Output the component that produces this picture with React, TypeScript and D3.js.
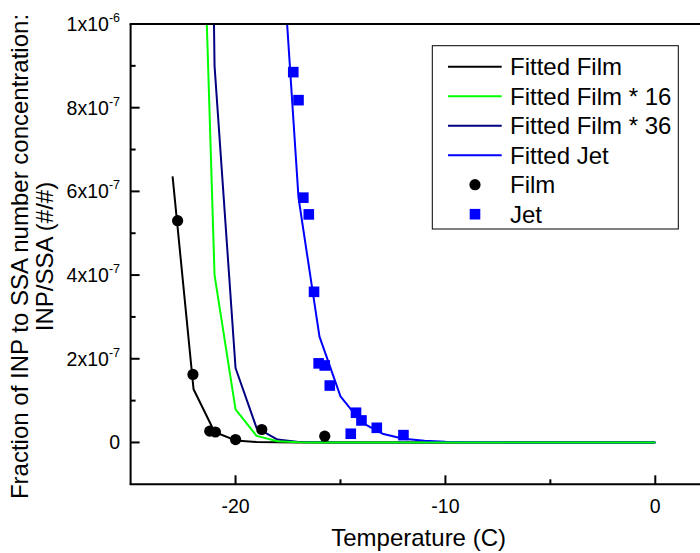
import React from "react";
import * as d3 from "d3";

// ---- data ----
const fitFilmT = [-23, -22, -21, -20, -19, -18, -17, -16, -15, -14, -13, -12, -11, -10, -9, -8, -7, -6, -5, -4, -3, -2, -1, 0];
const fittedFilm = [6.36e-7, 1.27e-7, 2.5e-8, 4.95e-9, 9.8e-10, 1.94e-10, 3.8e-11, 7.6e-12, 1.5e-12, 3e-13, 6e-14, 1.2e-14, 2.3e-15, 4.6e-16, 9e-17, 1.8e-17, 3.6e-18, 7e-19, 1.4e-19, 2.8e-20, 5.5e-21, 1.1e-21, 2.2e-22, 4.3e-23];
const fittedFilm16 = [1.02e-5, 2.03e-6, 4.0e-7, 7.9e-8, 1.57e-8, 3.1e-9, 6.1e-10, 1.2e-10, 2.4e-11, 4.8e-12, 9.6e-13, 1.9e-13, 3.7e-14, 7.4e-15, 1.4e-15, 2.9e-16, 5.8e-17, 1.1e-17, 2.2e-18, 4.5e-19, 8.8e-20, 1.8e-20, 3.5e-21, 6.9e-22];
const fittedFilm36 = [2.29e-5, 4.57e-6, 9.0e-7, 1.78e-7, 3.5e-8, 7.0e-9, 1.37e-9, 2.7e-10, 5.4e-11, 1.1e-11, 2.2e-12, 4.3e-13, 8.3e-14, 1.7e-14, 3.2e-15, 6.5e-16, 1.3e-16, 2.5e-17, 5e-18, 1e-18, 2e-19, 4e-20, 7.9e-21, 1.5e-21];

const fitJetT = [-18, -17, -16, -15, -14, -13, -12, -11, -10, -9, -8, -7, -6, -5, -4, -3, -2, -1, 0];
const fittedJet = [1.35e-6, 5.85e-7, 2.53e-7, 1.1e-7, 4.8e-8, 2.1e-8, 9.0e-9, 3.9e-9, 1.7e-9, 7.4e-10, 3.2e-10, 1.4e-10, 6e-11, 2.6e-11, 1.1e-11, 5e-12, 2e-12, 1e-12, 4e-13];

const filmT = [-22.76, -22.03, -21.23, -20.96, -20.0, -18.75, -15.75];
const filmV = [5.3e-7, 1.625e-7, 2.7e-8, 2.5e-8, 0.7e-8, 3.1e-8, 1.5e-8];

const jetT = [-17.25, -17.0, -16.77, -16.51, -16.26, -16.04, -15.75, -15.51, -14.51, -14.26, -14.0, -13.27, -12.0];
const jetV = [8.85e-7, 8.18e-7, 5.85e-7, 5.45e-7, 3.6e-7, 1.89e-7, 1.84e-7, 1.36e-7, 2.08e-8, 7.1e-8, 5.26e-8, 3.5e-8, 1.75e-8];

const xMajorTicks = [-20, -10, 0];
const xMajorLabels = ["-20", "-10", "0"];
const xMinorTicks = [-15, -5];
const yMajorTicks = [0, 2e-7, 4e-7, 6e-7, 8e-7, 1e-6];
const yTickMantissa = ["0", "2x10", "4x10", "6x10", "8x10", "1x10"];
const yTickExponent = ["", "-7", "-7", "-7", "-7", "-6"];
const yMinorTicks = [1e-7, 3e-7, 5e-7, 7e-7, 9e-7];

const legendLabels = ["Fitted Film", "Fitted Film * 16", "Fitted Film * 36", "Fitted Jet", "Film", "Jet"];

const FONT = "'Liberation Sans', Arial, sans-serif";

export default function App() {
  const left = 130.6, right = 700, top = 24, bottom = 484.3;
  const x = d3.scaleLinear().domain([-25, 0]).range([130.6, 655.3]);
  const y = d3.scaleLinear().domain([-1e-7, 1e-6]).range([bottom, top]);

  const line = d3
    .line<[number, number]>()
    .x((d) => x(d[0]))
    .y((d) => y(d[1]));

  const zip = (a: number[], b: number[]) => a.map((v, i) => [v, b[i]] as [number, number]);

  const series = [
    { vals: fittedFilm, t: fitFilmT, color: "#000000" },
    { vals: fittedFilm36, t: fitFilmT, color: "#000080" },
    { vals: fittedJet, t: fitJetT, color: "#0000FF" },
    { vals: fittedFilm16, t: fitFilmT, color: "#00FF00" },
  ];

  const legendColors = ["#000000", "#00FF00", "#000080", "#0000FF"];
  const legendY0 = 66.7;
  const legendStep = 29.5;

  return (
    <svg
      width={700}
      height={553}
      style={{ position: "absolute", left: 0, top: 0, background: "#fff" }}
      fontFamily={FONT}
    >
      <defs>
        <clipPath id="plotClip">
          <rect x={left} y={top} width={right - left} height={bottom - top} />
        </clipPath>
      </defs>
      <rect x={0} y={0} width={700} height={553} fill="#fff" />

      <g clipPath="url(#plotClip)">
        {series.map((s, i) => (
          <path
            key={i}
            d={line(zip(s.t, s.vals)) || ""}
            fill="none"
            stroke={s.color}
            strokeWidth={2}
            strokeLinejoin="round"
          />
        ))}
        {filmT.map((t, i) => (
          <circle key={"f" + i} cx={x(t)} cy={y(filmV[i])} r={5.6} fill="#000" />
        ))}
        {jetT.map((t, i) => (
          <rect key={"j" + i} x={x(t) - 5.3} y={y(jetV[i]) - 5.3} width={10.6} height={10.6} fill="#0000FF" />
        ))}
      </g>

      {/* axes */}
      <line x1={left} y1={top} x2={left} y2={bottom} stroke="#000" strokeWidth={2} />
      <line x1={left - 1} y1={bottom} x2={right} y2={bottom} stroke="#000" strokeWidth={2} />
      <line x1={left - 1} y1={top} x2={right} y2={top} stroke="#000" strokeWidth={2} />

      {yMajorTicks.map((v, i) => (
        <g key={"ym" + i}>
          <line x1={left} x2={left + 9} y1={y(v)} y2={y(v)} stroke="#000" strokeWidth={2} />
          <text x={120} y={y(v) + 7} textAnchor="end" fontSize={19.5} fill="#000">
            {yTickMantissa[i]}
            {yTickExponent[i] && (
              <tspan fontSize={12.5} dy={-9}>
                {yTickExponent[i]}
              </tspan>
            )}
          </text>
        </g>
      ))}
      {yMinorTicks.map((v, i) => (
        <line key={"yn" + i} x1={left} x2={left + 5} y1={y(v)} y2={y(v)} stroke="#000" strokeWidth={2} />
      ))}

      {xMajorTicks.map((v, i) => (
        <g key={"xm" + i}>
          <line x1={x(v)} x2={x(v)} y1={bottom} y2={bottom - 9} stroke="#000" strokeWidth={2} />
          <text x={x(v)} y={bottom + 29} textAnchor="middle" fontSize={19.5} fill="#000">
            {xMajorLabels[i]}
          </text>
        </g>
      ))}
      {xMinorTicks.map((v, i) => (
        <line key={"xn" + i} x1={x(v)} x2={x(v)} y1={bottom} y2={bottom - 5} stroke="#000" strokeWidth={2} />
      ))}

      {/* axis titles */}
      <text x={418.6} y={546} textAnchor="middle" fontSize={24} fill="#000">
        Temperature (C)
      </text>
      <text transform="translate(28,256.5) rotate(-90)" textAnchor="middle" fontSize={24} fill="#000">
        Fraction of INP to SSA number concentration:
      </text>
      <text transform="translate(53,256.5) rotate(-90)" textAnchor="middle" fontSize={24} fill="#000">
        INP/SSA (#/#)
      </text>

      {/* legend */}
      <rect x={432.3} y={45.7} width={246} height={183.3} fill="#fff" stroke="#000" strokeWidth={1} />
      {legendLabels.map((lab, i) => {
        const cy = legendY0 + i * legendStep;
        return (
          <g key={"lg" + i}>
            {i < 4 && (
              <line x1={448} x2={501.7} y1={cy} y2={cy} stroke={legendColors[i]} strokeWidth={2} />
            )}
            {i === 4 && <circle cx={475} cy={cy} r={5.6} fill="#000" />}
            {i === 5 && <rect x={475 - 5.3} y={cy - 5.3} width={10.6} height={10.6} fill="#0000FF" />}
            <text x={510} y={cy + 8.5} fontSize={24} fill="#000">
              {lab}
            </text>
          </g>
        );
      })}
    </svg>
  );
}
